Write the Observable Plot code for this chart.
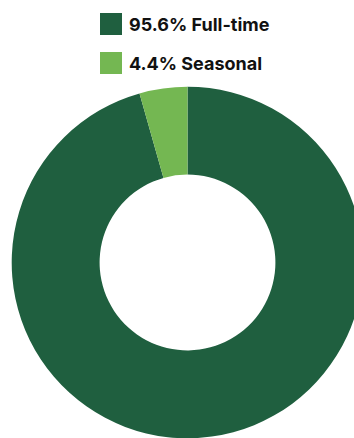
<!DOCTYPE html>
<html>
<head>
<meta charset="utf-8">
<script src="https://cdn.jsdelivr.net/npm/d3@7"></script>
<script src="https://cdn.jsdelivr.net/npm/@observablehq/plot@0.6"></script>
<style>
  html, body { margin: 0; padding: 0; background: #fff; }
  #legend { position: relative; height: 80px; width: 354px; font-family: Inter, Roboto, "Noto Sans", sans-serif; font-weight: 700; }
  .item { position: absolute; left: 100px; display: flex; align-items: center; height: 22px; font-size: 18px; color: #111; white-space: nowrap; }
  .sw { width: 22px; height: 22px; margin-right: 7px; flex: none; }
  #chart svg { display: block; }
</style>
</head>
<body>
<div id="legend"></div>
<div id="chart"></div>
<script>
const categories = ["Full-time", "Seasonal"];
const shares = [95.6, 4.4];
const colors = ["#1f5f3f", "#74b752"];
const legendLabels = ["95.6% Full-time", "4.4% Seasonal"];

const legend = document.getElementById("legend");
legendLabels.forEach((t, i) => {
  const it = document.createElement("div");
  it.className = "item";
  it.style.top = (13 + i * 39) + "px";
  const sw = document.createElement("div");
  sw.className = "sw";
  sw.style.background = colors[i];
  it.appendChild(sw);
  const sp = document.createElement("span");
  sp.textContent = t;
  it.appendChild(sp);
  legend.appendChild(it);
});

const data = categories.map((c, i) => ({category: c, value: shares[i], color: colors[i]}));
const arcs = d3.pie().sort(null).value(d => d.value)(data);

const donut = (index, scales, values, dimensions, context) => {
  const cx = scales.x(0), cy = scales.y(0);
  const outer = scales.x(1) - scales.x(0);
  const inner = outer * 0.5;
  const arcGen = d3.arc().innerRadius(inner).outerRadius(outer);
  const g = d3.create("svg:g").attr("transform", `translate(${cx},${cy})`);
  g.selectAll("path").data(arcs).join("path")
    .attr("d", arcGen)
    .attr("fill", d => d.data.color);
  return g.node();
};

const cy = 182.5, R = 175.8, cx = 187.5;
const chart = Plot.plot({
  width: 354,
  height: 358,
  margin: 0,
  x: {domain: [-1, 1], range: [cx - R, cx + R], axis: null},
  y: {domain: [-1, 1], range: [cy + R, cy - R], axis: null},
  marks: [donut]
});
document.getElementById("chart").appendChild(chart);
</script>
</body>
</html>
